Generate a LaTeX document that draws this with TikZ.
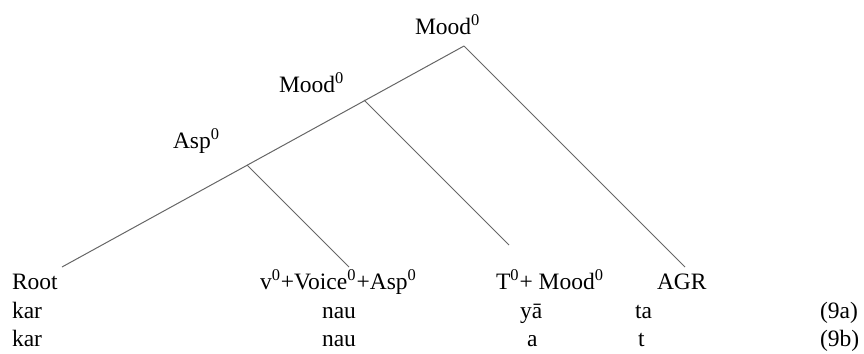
\documentclass[tikz,border=0pt]{standalone}
\usepackage{fontspec}
\setmainfont{Liberation Serif}
\begin{document}
\begin{tikzpicture}[x=0.5pt,y=-0.5pt,
  lbl/.style={anchor=base west,inner sep=0pt,outer sep=0pt,font=\fontsize{11.75}{14}\selectfont},
  branch/.style={draw=black!60,line width=0.5pt}]
\useasboundingbox (0,0) rectangle (864,354);
% labels
\node[lbl] (moodtop) at (415,34) {Mood\textsuperscript{0}};
\node[lbl] (moodmid) at (279,92) {Mood\textsuperscript{0}};
\node[lbl] (asp) at (173,148) {Asp\textsuperscript{0}};
\node[lbl] (root) at (12,289) {Root};
\node[lbl] (voice) at (260,289) {v\textsuperscript{0}+Voice\textsuperscript{0}+Asp\textsuperscript{0}};
\node[lbl] (tmood) at (496,289) {T\textsuperscript{0}+ Mood\textsuperscript{0}};
\node[lbl] (agr) at (657,289) {AGR};
\node[lbl] (kara) at (12,318) {kar};
\node[lbl] (naua) at (322,318) {nau};
\node[lbl] (ya) at (520,318) {yā};
\node[lbl] (ta) at (635,318) {ta};
\node[lbl] (exa) at (820,318) {(9a)};
\node[lbl] (karb) at (12,346) {kar};
\node[lbl] (naub) at (322,346) {nau};
\node[lbl] (ab) at (527,346) {a};
\node[lbl] (tb) at (638,346) {t};
\node[lbl] (exb) at (820,346) {(9b)};
% tree points
\coordinate (apex) at (464,46);
\coordinate (j2) at (364,100);
\coordinate (j1) at (247,165);
\coordinate (rootend) at (62,267);
\coordinate (voiceend) at (349,267);
\coordinate (tend) at (509,245);
\coordinate (agrend) at (685,267);
% branches
\draw[branch] (apex) -- (rootend);
\draw[branch] (apex) -- (agrend);
\draw[branch] (j2) -- (tend);
\draw[branch] (j1) -- (voiceend);
\end{tikzpicture}
\end{document}
